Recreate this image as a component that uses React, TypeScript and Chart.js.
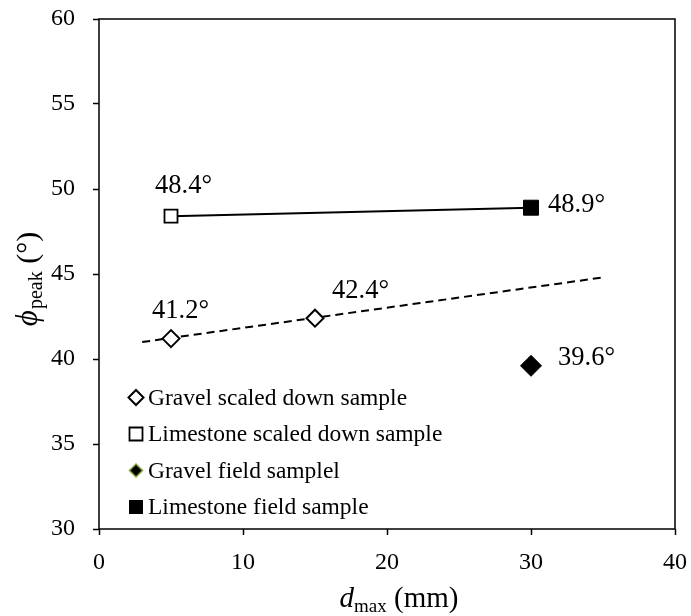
import React, { useEffect, useRef } from 'react';
import { Chart, registerables } from 'chart.js';

Chart.register(...registerables);

const FONT = '"Liberation Serif", "Times New Roman", serif';

// Peak friction angle (°) against maximum particle size (mm)
const gravelScaledX = [5, 15];
const gravelScaledY = [41.2, 42.4];
const limestoneScaledX = [5];
const limestoneScaledY = [48.4];
const gravelFieldX = [30];
const gravelFieldY = [39.6];
const limestoneFieldX = [30];
const limestoneFieldY = [48.9];

// Linear trend through the gravel scaled-down results
const gravelTrendX = [3, 35];
const gravelTrendY = [41.0, 44.8];

// Link between the two limestone results
const limestoneLinkX = [5, 30];
const limestoneLinkY = [48.4, 48.9];

const xTickValues = [0, 10, 20, 30, 40];
const yTickValues = [30, 35, 40, 45, 50, 55, 60];

const legendLabels = [
  'Gravel scaled down sample',
  'Limestone scaled down sample',
  'Gravel field samplel',
  'Limestone field sample',
];

const pts = (xs: number[], ys: number[]) => xs.map((x, i) => ({ x, y: ys[i] }));

// value-label placement: [datasetIndex, pointIndex, dx, dy]
const valueLabels: [number, number, number, number][] = [
  [0, 0, -19, -28],
  [0, 1, 17, -27],
  [1, 0, -16, -30],
  [2, 0, 27, -8],
  [3, 0, 17, -3],
];

const annotate = {
  id: 'annotate',
  afterDatasetsDraw(chart: any) {
    const { ctx, chartArea: a } = chart;
    ctx.save();

    // plot box
    ctx.strokeStyle = '#000';
    ctx.lineWidth = 1.5;
    ctx.strokeRect(a.left, a.top, a.right - a.left, a.bottom - a.top);

    // value labels
    ctx.fillStyle = '#000';
    ctx.font = `26.5px ${FONT}`;
    ctx.textAlign = 'left';
    ctx.textBaseline = 'middle';
    for (const [di, pi, dx, dy] of valueLabels) {
      const el = chart.getDatasetMeta(di).data[pi];
      const v = chart.data.datasets[di].data[pi].y as number;
      ctx.fillText(`${v.toFixed(1)}°`, el.x + dx, el.y + dy);
    }

    // legend inside the plot
    const lx = a.left + 37;
    const rowGap = 36.5;
    const y0 = a.bottom - 22 - rowGap * 3;
    ctx.font = `23.5px ${FONT}`;
    legendLabels.forEach((label, i) => {
      const y = y0 + i * rowGap;
      ctx.beginPath();
      if (i === 0) {
        const r = 7.5;
        ctx.moveTo(lx, y - r);
        ctx.lineTo(lx + r, y);
        ctx.lineTo(lx, y + r);
        ctx.lineTo(lx - r, y);
        ctx.closePath();
        ctx.fillStyle = '#fff';
        ctx.fill();
        ctx.lineWidth = 2;
        ctx.strokeStyle = '#000';
        ctx.stroke();
      } else if (i === 1) {
        ctx.rect(lx - 6.5, y - 6.5, 13, 13);
        ctx.fillStyle = '#fff';
        ctx.fill();
        ctx.lineWidth = 1.8;
        ctx.strokeStyle = '#000';
        ctx.stroke();
      } else if (i === 2) {
        const r = 6.5;
        ctx.moveTo(lx, y - r);
        ctx.lineTo(lx + r, y);
        ctx.lineTo(lx, y + r);
        ctx.lineTo(lx - r, y);
        ctx.closePath();
        ctx.fillStyle = '#000';
        ctx.fill();
        ctx.lineWidth = 1.5;
        ctx.strokeStyle = '#7aa63c';
        ctx.stroke();
      } else {
        ctx.rect(lx - 7, y - 7, 14, 14);
        ctx.fillStyle = '#000';
        ctx.fill();
      }
      ctx.fillStyle = '#000';
      ctx.fillText(label, lx + 12, y + 1);
    });

    // x-axis title: d_max (mm)
    const xc = (a.left + a.right) / 2 + 12;
    const xb = 607;
    ctx.textBaseline = 'alphabetic';
    const mainF = `29px ${FONT}`;
    const italF = `italic 29px ${FONT}`;
    const subF = `19px ${FONT}`;
    ctx.font = italF;
    const wD = ctx.measureText('d').width;
    ctx.font = subF;
    const wMax = ctx.measureText('max').width;
    ctx.font = mainF;
    const wRest = ctx.measureText(' (mm)').width;
    let x = xc - (wD + wMax + wRest) / 2;
    ctx.font = italF;
    ctx.fillText('d', x, xb);
    x += wD;
    ctx.font = subF;
    ctx.fillText('max', x, xb + 5);
    x += wMax;
    ctx.font = mainF;
    ctx.fillText(' (mm)', x, xb);

    // y-axis title: ϕ_peak (°)
    ctx.save();
    ctx.translate(37, 279);
    ctx.rotate(-Math.PI / 2);
    const yMainF = `30px ${FONT}`;
    const yItalF = `italic 31px ${FONT}`;
    const ySubF = `20px ${FONT}`;
    ctx.font = yItalF;
    const wPhi = ctx.measureText('ϕ').width + 1;
    ctx.font = ySubF;
    const wPeak = ctx.measureText('peak').width;
    ctx.font = yMainF;
    const wDeg = ctx.measureText(' (°)').width;
    let t = -(wPhi + wPeak + wDeg) / 2;
    ctx.font = yItalF;
    ctx.fillText('ϕ', t, 0);
    t += wPhi;
    ctx.font = ySubF;
    ctx.fillText('peak', t, 5);
    t += wPeak;
    ctx.font = yMainF;
    ctx.fillText(' (°)', t, 0);
    ctx.restore();

    ctx.restore();
  },
};

export default function App() {
  const ref = useRef<HTMLCanvasElement | null>(null);

  useEffect(() => {
    if (!ref.current) return;
    const tickFont = { family: FONT, size: 24 };
    const chart = new Chart(ref.current, {
      type: 'scatter',
      data: {
        datasets: [
          {
            label: legendLabels[0],
            data: pts(gravelScaledX, gravelScaledY),
            pointStyle: 'rectRot',
            pointRadius: 8.5,
            backgroundColor: '#fff',
            borderColor: '#000',
            borderWidth: 2,
            order: 0,
          },
          {
            label: legendLabels[1],
            data: pts(limestoneScaledX, limestoneScaledY),
            pointStyle: 'rect',
            pointRadius: 9.2,
            backgroundColor: '#fff',
            borderColor: '#000',
            borderWidth: 1.8,
            order: 0,
          },
          {
            label: legendLabels[2],
            data: pts(gravelFieldX, gravelFieldY),
            pointStyle: 'rectRot',
            pointRadius: 10.5,
            backgroundColor: '#000',
            borderColor: '#000',
            borderWidth: 1,
            order: 0,
          },
          {
            label: legendLabels[3],
            data: pts(limestoneFieldX, limestoneFieldY),
            pointStyle: 'rect',
            pointRadius: 10.6,
            backgroundColor: '#000',
            borderColor: '#000',
            borderWidth: 1,
            order: 0,
          },
          {
            label: 'trend',
            type: 'line',
            data: pts(gravelTrendX, gravelTrendY),
            showLine: true,
            borderColor: '#000',
            borderWidth: 2,
            borderDash: [8, 5],
            pointRadius: 0,
            order: 1,
          },
          {
            label: 'link',
            type: 'line',
            data: pts(limestoneLinkX, limestoneLinkY),
            showLine: true,
            borderColor: '#000',
            borderWidth: 2,
            pointRadius: 0,
            order: 1,
          },
        ],
      },
      options: {
        animation: false,
        responsive: false,
        layout: { padding: { top: 19, right: 16, left: 0, bottom: 0 } },
        plugins: { legend: { display: false }, tooltip: { enabled: false } },
        scales: {
          x: {
            type: 'linear',
            min: 0,
            max: 40,
            afterBuildTicks: (s: any) => {
              s.ticks = xTickValues.map((value) => ({ value }));
            },
            afterFit: (s: any) => {
              s.height = 87;
              s.paddingLeft = 0;
              s.paddingRight = 0;
            },
            border: { display: false },
            grid: {
              drawOnChartArea: false,
              drawTicks: true,
              tickLength: 6,
              tickColor: '#000',
              tickWidth: 1.5,
            },
            ticks: { color: '#000', font: tickFont, padding: 13, maxRotation: 0 },
          },
          y: {
            type: 'linear',
            min: 30,
            max: 60,
            afterBuildTicks: (s: any) => {
              s.ticks = yTickValues.map((value) => ({ value }));
            },
            afterFit: (s: any) => {
              s.width = 99;
              s.paddingTop = 0;
              s.paddingBottom = 0;
            },
            border: { display: false },
            grid: {
              drawOnChartArea: false,
              drawTicks: true,
              tickLength: 6,
              tickColor: '#000',
              tickWidth: 1.5,
            },
            ticks: { color: '#000', font: tickFont, padding: 18 },
          },
        },
      },
      plugins: [annotate],
    } as any);
    return () => chart.destroy();
  }, []);

  return (
    <div style={{ position: 'fixed', left: 0, top: 0, width: 691, height: 616, background: '#fff' }}>
      <canvas ref={ref} width={691} height={616} style={{ display: 'block' }} />
    </div>
  );
}
